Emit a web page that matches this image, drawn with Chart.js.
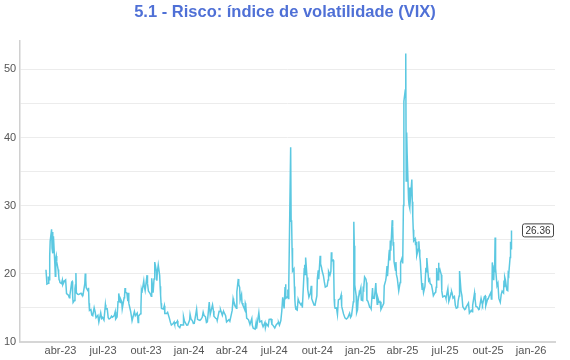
<!DOCTYPE html>
<html>
<head>
<meta charset="utf-8">
<script src="https://cdn.jsdelivr.net/npm/chart.js@4"></script>
<style>
  html, body { margin: 0; padding: 0; background: #fff; }
  #wrap { width: 570px; height: 360px; }
</style>
</head>
<body>
<div id="wrap"><canvas id="vixChart" width="570" height="360"></canvas></div>
<script>
// VIX daily closes (MM-DD per year)
const dates2023 = ['03-01','03-02','03-03','03-06','03-07','03-08','03-09','03-10','03-13','03-14','03-15','03-16','03-17','03-20','03-21','03-22','03-23','03-24','03-27','03-28','03-29','03-30','03-31',
  '04-03','04-05','04-06','04-10','04-12','04-14','04-18','04-20','04-21','04-25','04-26','04-27','04-28',
  '05-01','05-02','05-03','05-04','05-05','05-08','05-10','05-12','05-15','05-17','05-19','05-23','05-24','05-25','05-26','05-30','05-31',
  '06-01','06-02','06-05','06-07','06-09','06-12','06-14','06-16','06-20','06-22','06-26','06-28','06-30',
  '07-03','07-06','07-07','07-10','07-12','07-14','07-17','07-19','07-21','07-25','07-27','07-28','07-31',
  '08-02','08-03','08-04','08-07','08-08','08-10','08-11','08-15','08-16','08-17','08-18','08-21','08-23','08-24','08-25','08-29','08-31',
  '09-01','09-06','09-08','09-12','09-14','09-15','09-19','09-20','09-21','09-22','09-26','09-27','09-29',
  '10-03','10-04','10-06','10-10','10-12','10-13','10-16','10-18','10-19','10-20','10-23','10-24','10-25','10-27','10-30','10-31',
  '11-01','11-02','11-03','11-07','11-09','11-10','11-14','11-16','11-20','11-22','11-24','11-28','11-30',
  '12-01','12-05','12-07','12-08','12-12','12-14','12-19','12-20','12-22','12-27','12-29'];
const vix2023 = [20.58,19.59,18.49,18.60,19.59,19.11,22.61,24.80,26.52,23.73,26.14,22.99,25.51,21.38,19.64,22.26,22.61,21.74,20.60,19.97,19.12,19.02,18.70,
  18.55,19.08,18.40,18.97,19.09,17.07,16.83,16.46,16.77,18.76,18.84,16.79,15.78,
  16.08,17.78,18.34,20.09,17.19,16.98,16.94,17.03,17.12,16.87,16.81,18.53,20.03,19.14,17.95,17.46,17.94,
  15.65,14.60,14.73,13.94,13.83,15.01,14.42,13.54,13.88,12.91,14.25,13.43,13.59,
  13.18,15.44,14.83,14.84,13.54,13.34,13.48,13.76,13.60,13.86,14.41,13.33,13.63,
  15.88,15.92,17.10,15.77,16.19,15.85,14.84,16.46,16.78,17.89,17.30,17.13,15.98,17.20,15.68,14.45,13.57,
  13.09,14.45,13.84,14.23,12.82,13.79,14.11,15.14,17.54,17.20,18.94,18.22,17.52,
  19.78,18.58,17.45,17.03,16.69,19.32,17.21,19.22,21.40,21.71,20.37,18.97,20.19,21.27,19.75,18.14,
  16.87,15.66,14.91,14.81,15.29,14.17,14.16,14.32,13.41,12.85,12.46,12.69,12.92,
  12.63,12.85,13.06,12.35,12.07,12.48,12.45,13.67,13.03,12.43,12.45];

const dates2024 = ['01-02','01-03','01-05','01-08','01-10','01-12','01-17','01-19','01-22','01-24','01-26','01-29','01-31',
  '02-02','02-05','02-07','02-09','02-13','02-15','02-20','02-22','02-23','02-27','02-29',
  '03-01','03-05','03-07','03-08','03-12','03-14','03-15','03-19','03-21','03-26','03-28',
  '04-02','04-04','04-05','04-09','04-11','04-12','04-15','04-16','04-18','04-19','04-22','04-23','04-25','04-29','04-30',
  '05-01','05-03','05-07','05-10','05-14','05-15','05-17','05-21','05-23','05-24','05-29','05-31',
  '06-04','06-05','06-07','06-11','06-12','06-14','06-18','06-20','06-24','06-26','06-28',
  '07-02','07-05','07-09','07-10','07-12','07-15','07-17','07-19','07-22','07-24','07-25','07-26','07-29','07-30','07-31',
  '08-01','08-02','08-05','08-06','08-07','08-08','08-09','08-12','08-13','08-14','08-15','08-16','08-19','08-21','08-23','08-27','08-29','08-30',
  '09-03','09-04','09-05','09-06','09-09','09-10','09-11','09-13','09-16','09-18','09-19','09-20','09-24','09-26','09-30',
  '10-01','10-03','10-04','10-07','10-08','10-10','10-11','10-14','10-16','10-18','10-22','10-24','10-25','10-28','10-30','10-31',
  '11-01','11-04','11-05','11-06','11-07','11-08','11-11','11-13','11-15','11-19','11-21','11-22','11-26','11-29',
  '12-02','12-05','12-09','12-11','12-13','12-17','12-18','12-19','12-20','12-23','12-24','12-26','12-27','12-30','12-31'];
const vix2024 = [13.20,14.04,13.35,13.08,12.69,12.70,14.79,13.30,13.19,13.14,13.26,13.60,14.35,
  13.85,13.67,12.83,12.93,15.85,14.01,15.42,14.54,13.75,13.43,13.40,
  13.11,14.46,14.44,14.74,13.88,14.40,14.41,13.82,12.92,13.24,13.01,
  14.61,16.35,16.03,15.19,14.91,17.31,19.23,18.40,18.00,16.14,16.94,15.69,15.37,14.67,15.65,
  15.39,13.49,13.23,12.55,13.42,12.45,11.99,11.86,12.77,11.93,14.28,12.92,
  13.06,12.63,12.22,12.85,12.04,12.66,12.30,13.28,13.33,12.55,12.44,
  12.03,12.48,12.79,12.85,12.46,13.12,14.48,16.52,14.91,18.04,18.46,16.39,16.60,17.69,16.36,
  18.59,23.39,38.57,27.71,27.85,23.79,20.37,20.71,18.12,16.19,15.23,14.80,14.65,16.27,15.86,15.43,15.65,15.00,
  20.72,21.32,19.90,22.38,19.45,19.08,17.69,16.56,17.14,18.23,16.33,16.15,15.39,15.37,16.73,
  19.26,20.49,19.21,22.64,21.42,20.93,20.46,19.70,18.79,18.03,18.20,19.08,20.33,19.80,20.35,23.16,
  21.88,21.98,20.49,16.27,15.20,14.94,14.97,14.02,16.14,16.35,16.87,15.24,14.10,13.51,
  13.34,13.54,14.19,13.58,13.81,15.87,27.62,24.09,18.36,16.78,14.27,14.73,15.95,17.40,17.35];

const dates2025 = ['01-02','01-03','01-06','01-07','01-08','01-10','01-13','01-14','01-15','01-17','01-21','01-23','01-24','01-27','01-28','01-29','01-31',
  '02-03','02-04','02-06','02-07','02-10','02-12','02-14','02-18','02-20','02-21','02-24','02-25','02-27','02-28',
  '03-03','03-04','03-05','03-06','03-07','03-10','03-11','03-12','03-13','03-14','03-17','03-18','03-19','03-21','03-24','03-26','03-27','03-28','03-31',
  '04-01','04-02','04-03','04-04','04-07','04-08','04-09','04-10','04-11','04-14','04-15','04-16','04-17','04-21','04-22','04-23','04-24','04-25','04-28','04-29','04-30',
  '05-01','05-02','05-05','05-06','05-07','05-08','05-09','05-12','05-13','05-14','05-16','05-19','05-21','05-22','05-23','05-27','05-29','05-30',
  '06-02','06-04','06-06','06-09','06-11','06-12','06-13','06-16','06-17','06-18','06-20','06-23','06-24','06-26','06-30',
  '07-02','07-03','07-07','07-09','07-11','07-14','07-15','07-16','07-18','07-21','07-23','07-25','07-28','07-29','07-31',
  '08-01','08-04','08-06','08-08','08-12','08-14','08-15','08-19','08-20','08-22','08-26','08-28','08-29',
  '09-02','09-03','09-05','09-08','09-11','09-12','09-16','09-18','09-19','09-23','09-25','09-26','09-30',
  '10-01','10-03','10-07','10-08','10-09','10-10','10-13','10-14','10-15','10-16','10-17','10-20','10-22','10-24','10-27','10-29','10-31',
  '11-03','11-04','11-05','11-06','11-07','11-10','11-12','11-13','11-14','11-17','11-18','11-19','11-20'];
const vix2025 = [17.93,16.13,16.04,17.82,17.70,19.54,19.19,18.71,16.12,15.97,15.06,15.02,14.85,17.90,16.41,16.56,16.43,
  18.62,17.21,15.50,16.54,15.81,15.89,14.77,15.35,15.66,18.21,18.98,19.43,21.13,19.63,
  22.78,23.51,21.93,24.87,23.37,27.86,26.92,24.23,24.66,21.77,20.51,21.70,19.90,19.28,17.48,18.33,18.69,21.65,22.28,
  21.77,21.51,30.02,45.31,46.98,52.33,33.62,40.72,37.56,30.89,30.12,32.64,29.65,33.82,30.57,28.45,26.47,24.84,25.15,24.17,24.70,
  24.60,22.68,23.64,24.76,23.55,22.48,21.90,18.39,17.72,18.62,17.24,18.14,20.87,20.28,22.29,18.96,19.18,18.57,
  18.36,17.61,16.77,17.16,17.26,18.02,20.82,19.11,21.60,20.14,20.62,19.83,17.48,16.59,16.73,
  16.64,16.38,17.79,15.94,16.40,17.20,17.38,17.16,16.41,16.65,15.37,14.93,15.03,15.98,16.72,
  20.38,17.52,16.77,15.15,14.73,14.83,15.09,15.57,15.69,14.22,14.62,14.43,15.36,
  17.17,16.35,15.18,15.11,14.71,14.76,16.36,15.70,15.45,16.64,16.74,15.29,16.28,
  16.29,16.65,17.24,16.30,16.43,21.66,19.03,20.81,20.64,25.31,20.78,18.23,18.60,16.37,15.79,16.92,17.44,
  17.17,19.00,18.01,19.50,19.08,17.60,17.51,20.00,19.83,22.38,24.69,23.66,26.36];

// x axis ticks (quarter starts) and their labels
const xTickDates = ['2023-04-01','2023-07-01','2023-10-01','2024-01-01','2024-04-01','2024-07-01','2024-10-01','2025-01-01','2025-04-01','2025-07-01','2025-10-01','2026-01-01'];
const xTickLabels = ['abr-23','jul-23','out-23','jan-24','abr-24','jul-24','out-24','jan-25','abr-25','jul-25','out-25','jan-26'];
const xRange = ['2023-01-05', '2026-02-21'];
const yTicks = [10, 20, 30, 40, 50];

const dayNum = s => {
  const [y, m, d] = s.split('-').map(Number);
  return Date.UTC(y, m - 1, d) / 86400000;
};

const points = [];
[[2023, dates2023, vix2023], [2024, dates2024, vix2024], [2025, dates2025, vix2025]].forEach(([yr, ds, vs]) => {
  ds.forEach((d, i) => points.push({ x: dayNum(yr + '-' + d), y: vs[i] }));
});

const tickDays = xTickDates.map(dayNum);
const font = "'Liberation Sans', Arial, Helvetica, sans-serif";

// box with the last value, next to the end of the line
const lastLabel = {
  id: 'lastLabel',
  afterDatasetsDraw(chart) {
    const meta = chart.getDatasetMeta(0);
    const pt = meta.data[meta.data.length - 1];
    const val = chart.data.datasets[0].data[meta.data.length - 1].y.toFixed(2);
    const ctx = chart.ctx;
    ctx.save();
    ctx.font = '10px ' + font;
    const w = ctx.measureText(val).width + 6;
    const h = 13;
    const x = pt.x + 11, y = pt.y - h / 2;
    ctx.beginPath();
    ctx.roundRect(x, y, w, h, 2);
    ctx.fillStyle = '#fff';
    ctx.fill();
    ctx.strokeStyle = '#444';
    ctx.lineWidth = 1;
    ctx.stroke();
    ctx.fillStyle = '#333';
    ctx.textBaseline = 'middle';
    ctx.fillText(val, x + 3, y + h / 2 + 0.5);
    ctx.restore();
  }
};

new Chart(document.getElementById('vixChart').getContext('2d'), {
  type: 'line',
  data: {
    datasets: [{
      label: 'VIX',
      data: points,
      borderColor: '#5bc8e1',
      borderWidth: 1.5,
      pointRadius: 0,
      tension: 0,
      fill: false
    }]
  },
  options: {
    responsive: false,
    animation: false,
    layout: { padding: { left: 0, right: 0, top: 0, bottom: -1 } },
    plugins: {
      legend: { display: false },
      tooltip: { enabled: false },
      title: {
        display: true,
        text: '5.1 - Risco: índice de volatilidade (VIX)',
        color: '#4f70d6',
        font: { family: font, size: 16.5, weight: 'bold' },
        padding: { top: 3, bottom: 18 }
      }
    },
    scales: {
      x: {
        type: 'linear',
        min: dayNum(xRange[0]),
        max: dayNum(xRange[1]),
        grid: { display: false, drawTicks: false },
        border: { display: true, color: '#d6d6d6', width: 2 },
        afterBuildTicks: scale => { scale.ticks = tickDays.map(v => ({ value: v })); },
        ticks: {
          autoSkip: false,
          maxRotation: 0,
          padding: 3,
          color: '#555',
          font: { family: font, size: 11 },
          callback: v => xTickLabels[tickDays.indexOf(v)]
        }
      },
      y: {
        min: 10,
        max: 54.2,
        grid: { color: '#ececec', lineWidth: 1, drawTicks: false },
        border: { display: true, color: '#d0d0d0', width: 1.5 },
        ticks: {
          stepSize: 5,
          includeBounds: false,
          padding: 4,
          color: '#555',
          font: { family: font, size: 11 },
          callback: v => yTicks.includes(v) ? String(v) : ''
        }
      },
      // empty right margin so the title stays centred on the page
      yRight: {
        position: 'right',
        display: true,
        grid: { display: false, drawTicks: false },
        border: { display: false },
        ticks: { display: false },
        afterFit: scale => { scale.width = 15; }
      }
    }
  },
  plugins: [lastLabel]
});
</script>
</body>
</html>
